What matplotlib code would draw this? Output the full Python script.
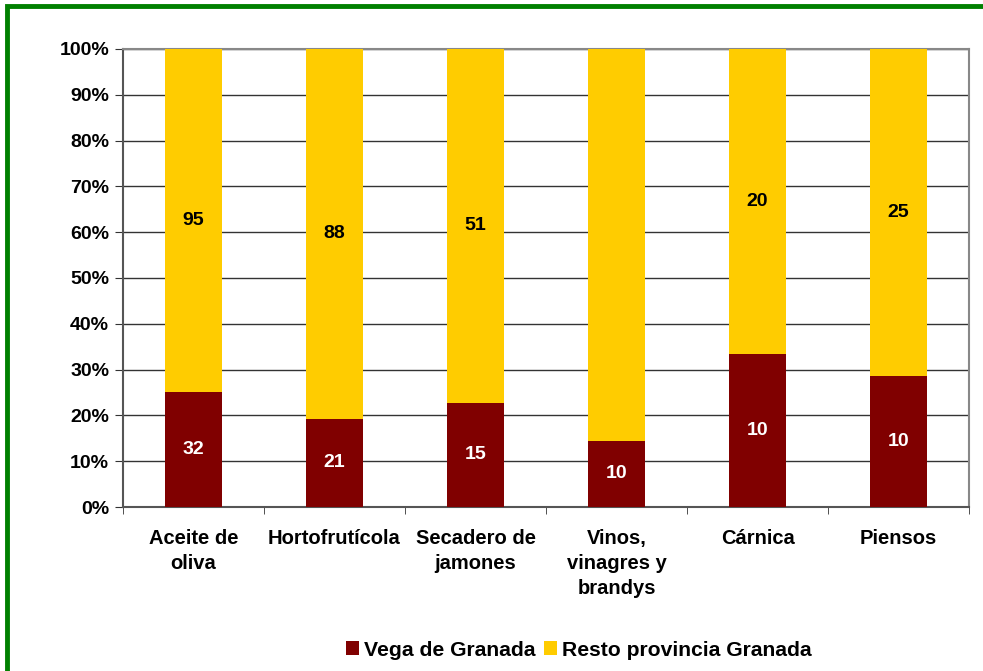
import numpy as np
import matplotlib.pyplot as plt
from matplotlib.patches import Rectangle
from matplotlib.ticker import PercentFormatter

plt.rcParams['font.family'] = ['Liberation Sans', 'DejaVu Sans']
plt.rcParams['font.weight'] = 'bold'

categories = ['Aceite de\noliva', 'Hortofrutícola', 'Secadero de\njamones',
              'Vinos,\nvinagres y\nbrandys', 'Cárnica', 'Piensos']
vega = [32, 21, 15, 10, 10, 10]
resto = [95, 88, 51, 59, 20, 25]
resto_labels = ['95', '88', '51', '', '20', '25']
series_names = ['Vega de Granada', 'Resto provincia Granada']

vega = np.array(vega, dtype=float)
resto = np.array(resto, dtype=float)
total = vega + resto
vega_pct = vega / total * 100
resto_pct = resto / total * 100

fig = plt.figure(figsize=(9.83, 6.71), dpi=100)
# green frame around the chart
fig.patches.append(Rectangle((6.5 / 983, -0.1), 1.2, 1.1 - 6 / 671,
                             transform=fig.transFigure, fill=False,
                             edgecolor='#008000', linewidth=3.5))

ax = fig.add_axes([0.1251, 0.2444, 0.8607, 0.6826])
x = np.arange(len(categories))
w = 0.4
b1 = ax.bar(x, vega_pct, w, color='#800000', label=series_names[0], zorder=3)
b2 = ax.bar(x, resto_pct, w, bottom=vega_pct, color='#FFCC00', label=series_names[1], zorder=3)

for i in range(len(x)):
    ax.text(x[i], vega_pct[i] / 2, '%d' % vega[i], ha='center', va='center',
            color='white', fontsize=14, fontweight='bold', zorder=4)
    ax.text(x[i], vega_pct[i] + resto_pct[i] / 2, resto_labels[i], ha='center', va='center',
            color='black', fontsize=14, fontweight='bold', zorder=4)

ax.set_xlim(-0.5, len(x) - 0.5)
ax.set_ylim(0, 100)
ax.set_yticks(np.arange(0, 101, 10))
ax.yaxis.set_major_formatter(PercentFormatter(decimals=0))
ax.grid(axis='y', color='#333333', linewidth=1, zorder=0)
ax.set_xticks(x)
ax.set_xticklabels(categories, fontsize=14.5, fontweight='bold', linespacing=1.4, va='top')
ax.set_xticks(np.arange(-0.5, len(x), 1), minor=True)
ax.tick_params(axis='x', which='major', length=0, pad=16)
ax.tick_params(axis='x', which='minor', length=5, color='#333333')
ax.tick_params(axis='y', length=6, color='#333333', labelsize=14, pad=4)
for lbl in ax.get_yticklabels():
    lbl.set_fontweight('bold')

ax.spines['left'].set_color('#555555')
ax.spines['bottom'].set_color('#555555')
ax.spines['top'].set_color('#888888')
ax.spines['right'].set_color('#888888')
for s in ax.spines.values():
    s.set_linewidth(1.5)

ax.legend(loc='upper center', bbox_to_anchor=(0.539, -0.25), ncol=2, frameon=False,
          handlelength=0.6, handleheight=0.6, handletextpad=0.25,
          columnspacing=0.4, prop={'weight': 'bold', 'size': 15.2})

fig.savefig('out.png', dpi=100)
